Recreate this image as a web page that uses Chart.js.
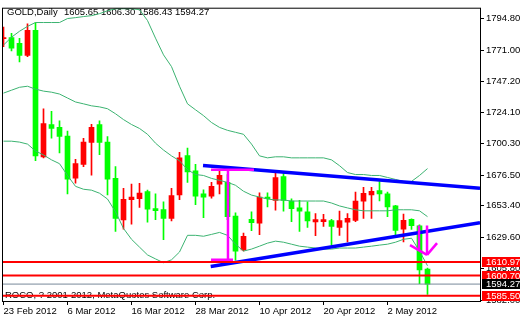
<!DOCTYPE html>
<html>
<head>
<meta charset="utf-8">
<script src="https://cdn.jsdelivr.net/npm/chart.js@4.4.0/dist/chart.umd.min.js"></script>
<style>
html, body { margin: 0; padding: 0; background: #fff; }
</style>
</head>
<body>
<canvas id="myChart" width="520" height="320"></canvas>
<script>
// daily candles, 23 Feb 2012 .. 9 May 2012 (index = bar number)
const opens = [1779.6, 1780.5, 1776.1, 1766.9, 1785.9, 1690.4, 1714.8, 1712.6, 1706.1, 1674.3,
    1684.7, 1701.2, 1714.8, 1701.5, 1674.1, 1642.7, 1658.0, 1658.7, 1664.2, 1651.3,
    1650.6, 1643.9, 1661.7, 1691.3, 1679.8, 1662.4, 1660.7, 1669.8, 1671.1, 1645.7,
    1620.0, 1643.2, 1640.2, 1660.0, 1657.5, 1675.5, 1657.0, 1651.8, 1648.9, 1641.2,
    1641.5, 1642.2, 1637.0, 1641.0, 1642.4, 1656.8, 1661.7, 1664.9, 1662.4, 1653.3,
    1635.8, 1643.2, 1638.3, 1605.65];
const highs = [1788.4, 1783.7, 1779.8, 1790.9, 1791.8, 1726.7, 1724.7, 1717.5, 1709.8, 1688.4,
    1704.4, 1715.0, 1717.5, 1705.7, 1683.0, 1666.6, 1669.8, 1670.4, 1665.2, 1662.4,
    1656.3, 1666.6, 1693.8, 1697.0, 1684.7, 1665.4, 1671.1, 1679.8, 1677.0, 1648.1,
    1632.8, 1648.9, 1663.2, 1663.2, 1678.5, 1678.5, 1658.7, 1657.5, 1656.3, 1647.6,
    1646.9, 1643.2, 1649.4, 1647.6, 1663.7, 1667.4, 1667.4, 1671.6, 1663.7, 1653.8,
    1647.2, 1643.5, 1639.0, 1606.30];
const lows = [1773.5, 1770.4, 1762.0, 1766.1, 1687.4, 1689.6, 1704.4, 1693.3, 1662.4, 1670.4,
    1683.0, 1676.5, 1692.0, 1661.7, 1634.1, 1635.8, 1639.5, 1652.1, 1641.0, 1643.0,
    1627.9, 1642.0, 1658.0, 1671.1, 1654.3, 1644.4, 1659.2, 1662.4, 1643.0, 1612.4,
    1619.3, 1634.6, 1631.6, 1652.6, 1650.1, 1649.4, 1641.5, 1634.1, 1637.0, 1630.9,
    1637.8, 1623.7, 1631.1, 1626.1, 1641.5, 1643.9, 1643.9, 1657.0, 1645.2, 1630.4,
    1626.1, 1635.5, 1594.6, 1586.43];
const closes = [1780.5, 1772.4, 1766.9, 1785.9, 1691.1, 1715.5, 1711.8, 1705.7, 1673.5, 1685.2,
    1701.5, 1712.6, 1701.2, 1673.5, 1643.9, 1658.3, 1660.0, 1663.0, 1650.9, 1649.8,
    1643.9, 1661.2, 1689.6, 1679.0, 1660.7, 1660.0, 1668.1, 1676.5, 1645.2, 1619.2,
    1630.4, 1640.7, 1660.0, 1658.7, 1674.8, 1657.5, 1651.3, 1649.4, 1642.0, 1642.9,
    1642.9, 1637.8, 1642.2, 1643.9, 1657.0, 1662.9, 1664.4, 1662.4, 1652.6, 1634.8,
    1642.4, 1638.3, 1604.9, 1594.27];

// bollinger bands
const bandUpper = [1774.8, 1780.7, 1785.2, 1788.9, 1791.8, 1791.8, 1791.8, 1791.8, 1794.8, 1795.5,
    1796.3, 1797.0, 1798.5, 1800.7, 1802.2, 1802.2, 1802.2, 1801.5, 1793.3, 1780.0,
    1767.4, 1758.5, 1743.7, 1730.4, 1725.9, 1721.5, 1716.3, 1712.6, 1710.4, 1708.9,
    1707.4, 1700.0, 1691.1, 1689.6, 1690.4, 1690.4, 1689.6, 1689.6, 1689.6, 1689.6,
    1689.6, 1688.1, 1683.7, 1678.5, 1677.0, 1677.0, 1676.3, 1676.3, 1674.8, 1673.3,
    1671.8, 1671.8, 1676.3, 1681.5];
const bandMiddle = [1738.5, 1740.7, 1742.9, 1743.7, 1741.5, 1740.0, 1739.2, 1737.8, 1734.8, 1731.8,
    1730.4, 1728.9, 1728.1, 1726.7, 1722.9, 1718.5, 1714.8, 1711.8, 1707.4, 1700.7,
    1695.5, 1691.1, 1687.4, 1680.7, 1677.0, 1676.3, 1674.1, 1672.6, 1671.1, 1668.9,
    1664.4, 1661.5, 1660.0, 1658.5, 1657.8, 1657.8, 1657.0, 1657.0, 1657.0, 1657.0,
    1657.0, 1655.5, 1653.3, 1651.8, 1650.4, 1649.6, 1649.6, 1649.6, 1649.6, 1650.4,
    1650.4, 1650.4, 1649.6, 1645.2];
const bandLower = [1702.2, 1702.2, 1701.5, 1700.0, 1694.8, 1691.8, 1688.1, 1685.2, 1676.3, 1668.1,
    1665.9, 1665.2, 1662.9, 1658.5, 1648.9, 1636.3, 1628.1, 1622.2, 1616.3, 1613.3,
    1610.4, 1612.6, 1618.5, 1631.1, 1631.1, 1630.4, 1631.8, 1633.3, 1631.1, 1624.4,
    1619.2, 1620.7, 1622.9, 1625.2, 1626.7, 1625.9, 1624.4, 1622.9, 1622.2, 1621.5,
    1620.7, 1620.7, 1621.5, 1621.5, 1621.5, 1622.2, 1622.9, 1623.7, 1624.4, 1625.9,
    1628.1, 1628.9, 1619.2, 1608.1];

const tickIdx = [0, 8, 16, 24, 32, 40, 48];
const tickLabels = ['23 Feb 2012', '6 Mar 2012', '16 Mar 2012', '28 Mar 2012', '10 Apr 2012', '20 Apr 2012', '2 May 2012'];
const priceTicks = [1582.00, 1605.80, 1629.60, 1653.40, 1676.50, 1700.30, 1724.10, 1747.20, 1771.00, 1794.80];

const levels = [1610.97, 1600.70, 1585.50];
const bid = 1594.27;

// drawn objects: [[x1, y1], [x2, y2]] in bar index / price
const trendLines = [
    [[24.94, 1683.9], [59.56, 1666.7]],
    [[25.9, 1607.6], [59.56, 1640.7]]
];
const magentaLines = [
    [[25.94, 1680.7], [31.31, 1680.7]],
    [[28.06, 1680.7], [28.06, 1612.6]],
    [[25.94, 1612.6], [28.69, 1612.6]],
    [[51.94, 1638.5], [51.94, 1620.0]],
    [[52.94, 1638.5], [52.94, 1616.3]],
    [[50.81, 1623.7], [52.94, 1616.3]],
    [[54.19, 1625.2], [52.94, 1616.3]]
];

const symbol = 'GOLD,Daily';
const ohlcText = [opens[53], highs[53], lows[53], closes[53]].map(v => v.toFixed(2)).join(' ');
const copyright = 'ROCO, ? 2001-2012, MetaQuotes Software Corp.';

const xMin = -0.1875, xMax = 59.5625;
const FONT = '9.5px "Liberation Sans", Arial, sans-serif';

const up = opens.map((o, i) => closes[i] >= o);
const candleColors = up.map(u => u ? '#ff0000' : '#00ff00');

function seg(p, color, width, order) {
    return {
        type: 'line',
        data: p.map(q => ({x: q[0], y: q[1]})),
        borderColor: color,
        borderWidth: width,
        pointRadius: 0,
        tension: 0,
        fill: false,
        order: order
    };
}
function band(vals) {
    return {
        type: 'line',
        data: vals.map((v, i) => ({x: i, y: v})),
        borderColor: '#3cb371',
        borderWidth: 1,
        pointRadius: 0,
        tension: 0,
        fill: false,
        order: 4
    };
}

const datasets = [];
levels.forEach(v => datasets.push(seg([[xMin, v], [xMax, v]], '#ff0000', 2, 0)));
magentaLines.forEach(s => datasets.push(seg(s, '#ff00ff', 2.5, 1)));
trendLines.forEach(s => datasets.push(seg(s, '#0000ff', 3.5, 2)));
datasets.push(seg([[xMin, bid], [xMax, bid]], '#778899', 1, 3));
datasets.push(band(bandUpper), band(bandMiddle), band(bandLower));
datasets.push({
    type: 'bar',
    data: opens.map((o, i) => ({x: i, y: [o, closes[i]]})),
    backgroundColor: candleColors,
    borderWidth: 0,
    barThickness: 5,
    grouped: false,
    order: 5
});
datasets.push({
    type: 'bar',
    data: lows.map((l, i) => ({x: i, y: [l, highs[i]]})),
    backgroundColor: candleColors,
    borderWidth: 0,
    barThickness: 1,
    grouped: false,
    order: 6
});

const decor = {
    id: 'decor',
    beforeDatasetsDraw(chart) {
        const ctx = chart.ctx;
        ctx.save();
        ctx.font = FONT;
        ctx.fillStyle = '#000';
        ctx.textBaseline = 'alphabetic';
        ctx.fillText(symbol, 7, 15);
        ctx.fillText(ohlcText, 64, 15);
        ctx.fillText(copyright, 5, 298);
        ctx.restore();
    },
    afterDraw(chart) {
        const ctx = chart.ctx, a = chart.chartArea, ys = chart.scales.y;
        ctx.save();
        ctx.strokeStyle = '#000';
        ctx.lineWidth = 1;
        ctx.strokeRect(a.left + 0.5, a.top + 0.5, a.right - a.left, a.bottom - a.top);
        ctx.font = FONT;
        ctx.textBaseline = 'middle';
        const box = (v, bg) => {
            const py = Math.round(ys.getPixelForValue(v));
            ctx.fillStyle = bg;
            ctx.fillRect(482, py - 5, 38, 10);
            ctx.fillStyle = '#fff';
            ctx.fillText(v.toFixed(2), 486, py + 0.5);
        };
        levels.forEach(v => box(v, '#ff0000'));
        box(bid, '#000000');
        ctx.restore();
    }
};

const config = {
    type: 'bar',
    data: {datasets: datasets},
    options: {
        responsive: false,
        animation: false,
        layout: {padding: {left: 2, top: 2, right: 0, bottom: 0}},
        plugins: {legend: {display: false}, tooltip: {enabled: false}},
        scales: {
            x: {
                type: 'linear',
                min: xMin,
                max: xMax,
                offset: false,
                grid: {offset: false, drawOnChartArea: false, drawTicks: true, tickLength: 4, tickColor: '#000'},
                border: {display: false},
                afterBuildTicks: s => { s.ticks = tickIdx.map(v => ({value: v})); },
                afterFit: s => { s.height = 19; },
                ticks: {
                    autoSkip: false,
                    maxRotation: 0,
                    align: 'start',
                    padding: 1,
                    color: '#000',
                    font: {family: '"Liberation Sans", Arial, sans-serif', size: 9.5},
                    callback: (v, i) => tickLabels[i]
                }
            },
            y: {
                type: 'linear',
                position: 'right',
                min: 1581.5,
                max: 1803,
                grid: {drawOnChartArea: false, drawTicks: true, tickLength: 4, tickColor: '#000'},
                border: {display: false},
                afterBuildTicks: s => { s.ticks = priceTicks.map(v => ({value: v})); },
                afterFit: s => { s.width = 40; },
                ticks: {
                    padding: 2,
                    color: '#000',
                    font: {family: '"Liberation Sans", Arial, sans-serif', size: 9.5},
                    callback: v => v.toFixed(2)
                }
            }
        }
    },
    plugins: [decor]
};

var myChart = new Chart(document.getElementById('myChart'), config);
</script>
</body>
</html>
